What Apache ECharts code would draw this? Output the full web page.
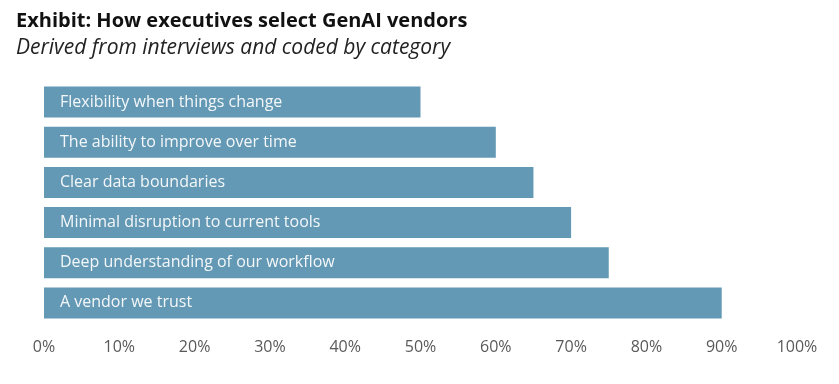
<!DOCTYPE html>
<html>
<head>
<meta charset="utf-8">
<script src="https://cdn.jsdelivr.net/npm/echarts@6/dist/echarts.min.js"></script>
<style>html,body{margin:0;padding:0;background:#fff}#c{width:839px;height:384px}</style>
</head>
<body>
<div id="c"></div>
<script>
const categories = [
  "A vendor we trust",
  "Deep understanding of our workflow",
  "Minimal disruption to current tools",
  "Clear data boundaries",
  "The ability to improve over time",
  "Flexibility when things change"
];
const values = [90, 75, 70, 65, 60, 50];
const tickLabels = ["0%","10%","20%","30%","40%","50%","60%","70%","80%","90%","100%"];

const chart = echarts.init(document.getElementById('c'));
chart.setOption({
  animation: false,
  title: [
    {text: "Exhibit: How executives select GenAI vendors", left: 11, top: 6,
     textStyle: {fontFamily: "Open Sans", fontWeight: "bold", fontSize: 20, color: "#111"}},
    {text: "Derived from interviews and coded by category", left: 11, top: 33,
     textStyle: {fontFamily: "Open Sans", fontStyle: "italic", fontWeight: "normal", fontSize: 21, color: "#222"}}
  ],
  grid: {left: 44, right: 42, top: 82, bottom: 61, containLabel: false},
  xAxis: {
    type: 'value', min: 0, max: 100, interval: 10,
    splitLine: {show: false}, axisLine: {show: false}, axisTick: {show: false},
    axisLabel: {formatter: v => tickLabels[v/10], color: "#595959", fontSize: 16, fontFamily: "Open Sans", margin: 16}
  },
  yAxis: {
    type: 'category', data: categories,
    axisLine: {show: false}, axisTick: {show: false}, axisLabel: {show: false}
  },
  series: [{
    type: 'bar', data: values, barCategoryGap: '23%',
    itemStyle: {color: "#6399B5"},
    label: {show: true, position: 'insideLeft', distance: 16,
      formatter: p => p.name, color: "#F4F7F9", fontSize: 16, fontFamily: "Open Sans"}
  }]
});
</script>
</body>
</html>
